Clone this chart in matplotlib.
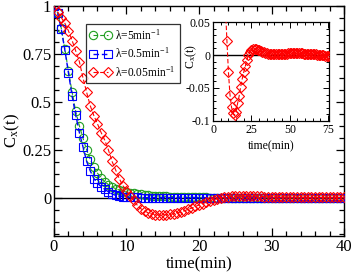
import numpy as np
import matplotlib
matplotlib.use("Agg")
import matplotlib.pyplot as plt
from matplotlib.ticker import MultipleLocator

plt.rcParams['font.family'] = ['Liberation Serif', 'DejaVu Serif']
plt.rcParams['mathtext.fontset'] = 'stix'

# time grid of main panel (min)
t_main = np.arange(0, 40.01, 0.5)

c_lam5 = [1.0, 0.965, 0.885, 0.775, 0.66, 0.55, 0.45, 0.375, 0.31, 0.25,
          0.20, 0.16, 0.128, 0.103, 0.084, 0.068, 0.056, 0.047, 0.04, 0.034,
          0.029, 0.025, 0.022, 0.019, 0.017, 0.015, 0.013, 0.011, 0.010, 0.009,
          0.008, 0.007, 0.006, 0.005, 0.004, 0.004, 0.003, 0.003, 0.002, 0.002,
          0.001, 0.001, 0.001, 0.0, 0.0, 0.0, 0.0, 0.0, 0.0, 0.0,
          0.0, 0.0, 0.0, 0.0, 0.0, 0.0, 0.0, 0.0, 0.0, 0.0,
          0.0, 0.0, 0.0, 0.0, 0.0, 0.0, 0.0, 0.0, 0.0, 0.0,
          0.0, 0.0, 0.0, 0.0, 0.0, 0.0, 0.0, 0.0, 0.0, 0.0,
          0.0]

c_lam05 = [1.0, 0.965, 0.88, 0.77, 0.65, 0.53, 0.43, 0.34, 0.265, 0.19,
           0.14, 0.10, 0.075, 0.058, 0.044, 0.03, 0.02, 0.012, 0.008, 0.005,
           0.003, 0.002, 0.001, 0.001, 0.0, 0.0, 0.0, 0.0, 0.0, 0.0,
           0.0, 0.0, 0.0, 0.0, 0.0, 0.0, 0.0, 0.0, 0.0, 0.0,
           0.0, 0.0, 0.0, 0.0, 0.0, 0.0, 0.0, 0.0, 0.0, 0.0,
           0.0, 0.0, 0.0, 0.0, 0.0, 0.0, 0.0, 0.0, 0.0, 0.0,
           0.0, 0.0, 0.0, 0.0, 0.0, 0.0, 0.0, 0.0, 0.0, 0.0,
           0.0, 0.0, 0.0, 0.0, 0.0, 0.0, 0.0, 0.0, 0.0, 0.0,
           0.0]

c_lam005 = [1.0, 0.97, 0.94, 0.91, 0.87, 0.82, 0.765, 0.71, 0.625, 0.55,
            0.48, 0.428, 0.385, 0.34, 0.30, 0.25, 0.19, 0.145, 0.10, 0.063,
            0.035, 0.01, -0.013, -0.04, -0.058, -0.07, -0.079, -0.085, -0.088, -0.09,
            -0.09, -0.089, -0.087, -0.084, -0.079, -0.074, -0.068, -0.061, -0.054, -0.046,
            -0.038, -0.031, -0.024, -0.017, -0.011, -0.005, 0.0, 0.004, 0.006, 0.007,
            0.008, 0.009, 0.009, 0.009, 0.009, 0.008, 0.008, 0.007, 0.006, 0.006,
            0.005, 0.004, 0.004, 0.003, 0.003, 0.003, 0.002, 0.002, 0.002, 0.002,
            0.001, 0.001, 0.001, 0.001, 0.001, 0.001, 0.001, 0.001, 0.001, 0.001,
            0.001]

# inset: lambda = 0.05 min^-1, long times
t_inset = np.arange(7, 77.01, 1.0)
c_inset = [0.13, 0.075, 0.022, -0.026, -0.060, -0.079, -0.088, -0.091, -0.086, -0.073,
           -0.062, -0.048, -0.036, -0.026, -0.017, -0.008, 0.0, 0.005, 0.008, 0.009,
           0.0095, 0.009, 0.008, 0.007, 0.006, 0.005, 0.004, 0.003, 0.003, 0.002,
           0.002, 0.002, 0.001, 0.001, 0.001, 0.001, 0.001, 0.001, 0.002, 0.002,
           0.002, 0.002, 0.003, 0.003, 0.003, 0.003, 0.003, 0.003, 0.003, 0.003,
           0.003, 0.003, 0.002, 0.002, 0.002, 0.001, 0.001, 0.001, 0.001, 0.001,
           0.001, 0.0, 0.0, 0.0, 0.0, 0.0, -0.001, -0.001, -0.001, -0.001,
           -0.001]

labels = [r'λ=5min$^{\mathregular{-1}}$', r'λ=0.5min$^{\mathregular{-1}}$',
          r'λ=0.05min$^{\mathregular{-1}}$']
green = '#1f9e1f'
blue = '#0000ff'
red = '#ff0000'

fig = plt.figure(figsize=(3.54, 2.73), dpi=100)
ax = fig.add_axes([0.1525, 0.1355, 0.8193, 0.8425])

ax.axhline(0, color='black', lw=1.0, zorder=1)
ax.plot(t_main, c_lam5, ls=(0, (4, 2)), color=green, lw=0.8, marker='o', ms=6.0,
        mfc='none', mec=green, mew=0.8, label=labels[0], zorder=2)
ax.plot(t_main, c_lam05, ls=(0, (4, 2)), color=blue, lw=1.0, marker='s', ms=5.4,
        mfc='none', mec=blue, mew=0.8, label=labels[1], zorder=3)
ax.plot(t_main, c_lam005, ls=(0, (4, 2)), color=red, lw=0.8, marker='D', ms=4.8,
        mfc='none', mec=red, mew=0.8, label=labels[2], zorder=4)

ax.set_xlim(0, 40)
ax.set_ylim(-0.2, 1.0)
ax.set_xticks([0, 10, 20, 30, 40])
ax.set_yticks([0, 0.25, 0.5, 0.75, 1.0])
ax.set_yticklabels(['0', '0.25', '0.5', '0.75', '1'])
ax.xaxis.set_minor_locator(MultipleLocator(2))
ax.yaxis.set_minor_locator(MultipleLocator(0.0625))
ax.tick_params(which='both', direction='in', top=True, right=True, labelsize=12, width=0.9)
ax.tick_params(which='major', length=6, pad=2)
ax.tick_params(which='minor', length=3.5)
for s in ax.spines.values():
    s.set_linewidth(1.0)
ax.set_xlabel('time(min)', fontsize=12, labelpad=1)
ax.set_ylabel(r'C$_{\mathregular{x}}$(t)', fontsize=12)
ax.yaxis.set_label_coords(-0.11, 0.46)

leg = ax.legend(loc='upper left', bbox_to_anchor=(0.110, 0.922), numpoints=2,
                fontsize=8.3, frameon=True, fancybox=False, handlelength=1.9,
                handletextpad=0.3, borderpad=0.35, labelspacing=0.35,
                borderaxespad=0)
leg.get_frame().set_edgecolor('black')
leg.get_frame().set_linewidth(0.9)

ins = fig.add_axes([0.602, 0.557, 0.327, 0.362])
ins.axhline(0, color='black', lw=1.0, zorder=1)
ins.plot(t_inset, c_inset, ls=(0, (4, 2)), color=red, lw=0.8, marker='D', ms=4.6,
         mfc='none', mec=red, mew=0.8, zorder=3)
ins.set_xlim(0, 75.5)
ins.set_ylim(-0.1, 0.05)
ins.set_xticks([0, 25, 50, 75])
ins.set_yticks([-0.1, -0.05, 0, 0.05])
ins.set_yticklabels(['-0.1', '-0.05', '0', '0.05'])
ins.xaxis.set_minor_locator(MultipleLocator(5))
ins.yaxis.set_minor_locator(MultipleLocator(0.01))
ins.tick_params(which='both', direction='in', top=True, right=True, labelsize=8.5, width=0.7)
ins.tick_params(which='major', length=4, pad=2)
ins.tick_params(which='minor', length=2)
for s in ins.spines.values():
    s.set_linewidth(0.9)
ins.set_xlabel('time(min)', fontsize=8.5, labelpad=3)
ins.set_ylabel(r'C$_{\mathregular{x}}$(t)', fontsize=8.5)
ins.yaxis.set_label_coords(-0.12, 0.65)

fig.savefig('out.png', dpi=100)
